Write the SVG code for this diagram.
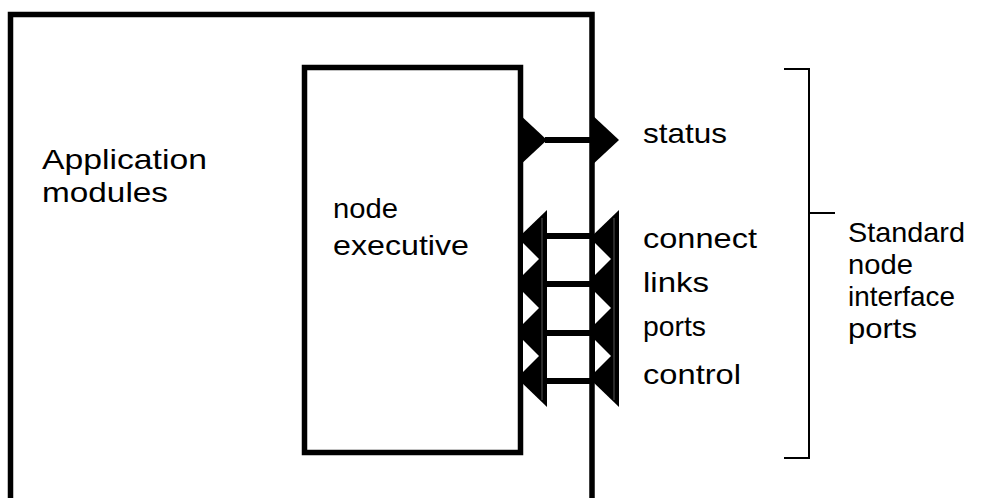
<svg xmlns="http://www.w3.org/2000/svg" width="997" height="498" viewBox="0 0 997 498">
  <style>
    .frame { fill: none; stroke: #000; stroke-width: 5.5; }
    .wire { stroke: #000; stroke-width: 6; fill: none; }
    .port { fill: #000; }
    .gap { fill: #fff; }
    .seam { stroke: #555; stroke-width: 1; fill: none; }
    .brace { stroke: #000; stroke-width: 2; fill: none; }
    .label { font-family: "Liberation Sans", Arial, sans-serif; font-size: 28px; fill: #000; }
  </style>

  <!-- outer application box -->
  <g id="application-modules">
    <rect class="frame" x="10.5" y="14.5" width="581.5" height="490"/>
    <text class="label" x="42" y="169" textLength="165" lengthAdjust="spacingAndGlyphs">Application</text>
    <text class="label" x="42" y="202" textLength="126" lengthAdjust="spacingAndGlyphs">modules</text>
  </g>

  <!-- node executive box -->
  <g id="node-executive">
    <rect class="frame" x="304.5" y="67.5" width="216" height="385"/>
    <text class="label" x="333" y="218" textLength="65" lengthAdjust="spacingAndGlyphs">node</text>
    <text class="label" x="333" y="255" textLength="136" lengthAdjust="spacingAndGlyphs">executive</text>
  </g>

  <!-- port connectors -->
  <g id="connectors">
    <line class="wire" x1="545" y1="140" x2="592" y2="140"/>
    <line class="wire" x1="545" y1="236" x2="592" y2="236"/>
    <line class="wire" x1="545" y1="284" x2="592" y2="284"/>
    <line class="wire" x1="545" y1="333" x2="592" y2="333"/>
    <line class="wire" x1="545" y1="381" x2="592" y2="381"/>
  </g>

  <!-- status port: outgoing arrows -->
  <g id="status-port">
    <polygon class="port" points="518,113 547,140 518,167"/>
    <polygon class="port" points="590,113 619,140 590,167"/>
    <text class="label" x="643" y="143" textLength="84" lengthAdjust="spacingAndGlyphs">status</text>
  </g>

  <!-- stacked incoming ports, inner side -->
  <g id="inner-ports">
    <polygon class="port" points="547,210 520,236 520,381 547,407"/>
    <polygon class="gap" points="523,243 539,259 523,275"/>
    <polygon class="gap" points="523,292 539,308 523,324"/>
    <polygon class="gap" points="523,340 539,356 523,372"/>
    <line class="seam" x1="542" y1="218" x2="542" y2="400"/>
  </g>

  <!-- stacked incoming ports, outer side -->
  <g id="outer-ports">
    <polygon class="port" points="619,210 592,236 592,381 619,407"/>
    <polygon class="gap" points="595,243 611,259 595,275"/>
    <polygon class="gap" points="595,292 611,308 595,324"/>
    <polygon class="gap" points="595,340 611,356 595,372"/>
    <line class="seam" x1="614" y1="218" x2="614" y2="400"/>
  </g>

  <!-- port labels -->
  <g id="port-labels">
    <text class="label" x="643" y="248" textLength="114" lengthAdjust="spacingAndGlyphs">connect</text>
    <text class="label" x="643" y="292" textLength="66" lengthAdjust="spacingAndGlyphs">links</text>
    <text class="label" x="643" y="336" textLength="63" lengthAdjust="spacingAndGlyphs">ports</text>
    <text class="label" x="643" y="384" textLength="98" lengthAdjust="spacingAndGlyphs">control</text>
  </g>

  <!-- bracket grouping the standard ports -->
  <g id="standard-ports">
    <polyline class="brace" points="784,69 809,69 809,458 784,458"/>
    <line class="brace" x1="809" y1="213" x2="835" y2="213"/>
    <text class="label" x="848" y="242" textLength="117" lengthAdjust="spacingAndGlyphs">Standard</text>
    <text class="label" x="848" y="274" textLength="65" lengthAdjust="spacingAndGlyphs">node</text>
    <text class="label" x="848" y="306" textLength="107" lengthAdjust="spacingAndGlyphs">interface</text>
    <text class="label" x="848" y="338" textLength="69" lengthAdjust="spacingAndGlyphs">ports</text>
  </g>
</svg>
